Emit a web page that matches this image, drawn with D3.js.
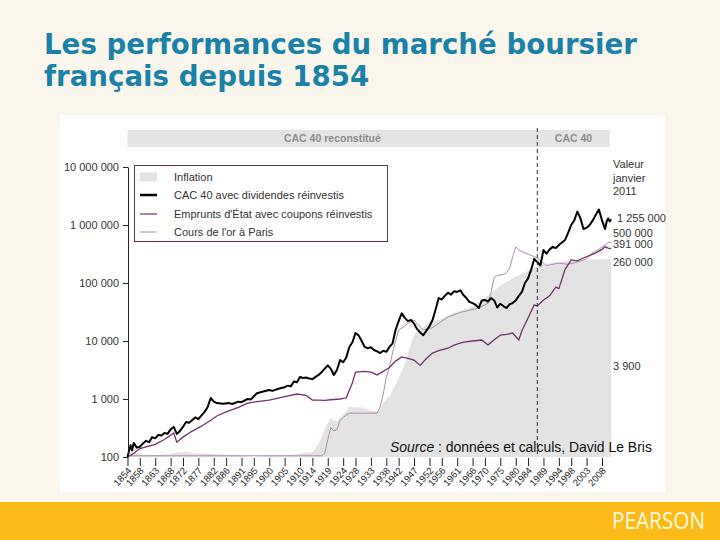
<!DOCTYPE html>
<html><head><meta charset="utf-8">
<script src="https://cdn.jsdelivr.net/npm/d3@7"></script>
<style>body{margin:0;background:#FBF6EC}svg{display:block}</style>
</head><body>
<svg id="c" width="720" height="540"></svg>
<script>
// ---------- DATA ----------
const titleLines = ["Les performances du marché boursier", "français depuis 1854"];
const yTickValues = [100, 1000, 10000, 100000, 1000000, 10000000];
const xTickYears = [1854,1858,1863,1868,1872,1877,1882,1886,1891,1895,1900,1905,1910,1914,1919,1924,1928,1933,1938,1942,1947,1952,1956,1961,1966,1970,1975,1980,1984,1989,1994,1998,2003,2008];
const legendLabels = ["Inflation", "CAC 40 avec dividendes réinvestis", "Emprunts d'État avec coupons réinvestis", "Cours de l'or à Paris"];
const bandLabels = ["CAC 40 reconstitué", "CAC 40"];
const cac40StartYear = 1987;
const endLabelsTitle = ["Valeur", "janvier", "2011"];
const endLabels = ["1 255 000", "500 000", "391 000", "260 000", "3 900"];

// CAC 40 avec dividendes réinvestis [year, value]
const cac40 = [[1854,100],[1855,160],[1855.5,130],[1856,175],[1857,145],[1858,150],[1859,170],[1860,190],[1861,180],[1862,220],[1863,210],[1864,240],[1865,235],[1866,260],[1867,250],[1868,300],[1869,330],[1870,250],[1871,280],[1872,330],[1873,400],[1874,390],[1876,480],[1877,450],[1879,600],[1880,720],[1881,1040],[1882,900],[1883,850],[1885,830],[1887,850],[1888,820],[1890,900],[1891,880],[1893,1000],[1894,980],[1896,1260],[1898,1350],[1900,1430],[1901,1380],[1903,1500],[1905,1600],[1906,1700],[1907,1650],[1908,2000],[1909,1950],[1910,2400],[1911,2300],[1912,2350],[1913,2250],[1914,2200],[1916,2600],[1917,2900],[1919,3800],[1920,3300],[1921,2600],[1922,3200],[1923,4700],[1924,4300],[1925,5200],[1926,7900],[1927,9500],[1928,13700],[1929,12500],[1930,10000],[1931,7900],[1932,7500],[1933,7800],[1934,7000],[1935,6600],[1936,6200],[1937,6800],[1938,6500],[1939,7900],[1940,9000],[1941,15500],[1942,22000],[1943,30000],[1944,25000],[1945,22000],[1946,23000],[1947,20000],[1948,16000],[1949,14000],[1950,12600],[1951,15000],[1952,18000],[1953,23000],[1954,35000],[1955,55000],[1956,52000],[1957,60000],[1958,68000],[1959,63000],[1960,72000],[1961,70000],[1962,75000],[1963,62000],[1964,55000],[1965,47000],[1966,45000],[1967,42000],[1968,37000],[1969,50000],[1970,51000],[1971,48000],[1972,55000],[1973,50000],[1974,38000],[1975,44000],[1976,40000],[1977,37000],[1978,43000],[1979,45000],[1980,50000],[1981,60000],[1982,70000],[1983,100000],[1984,120000],[1985,170000],[1986,260000],[1987,230000],[1988,200000],[1989,370000],[1990,320000],[1991,380000],[1992,420000],[1993,400000],[1994,450000],[1995,500000],[1996,550000],[1997,730000],[1998,1000000],[1999,1200000],[2000,1700000],[2001,1300000],[2002,850000],[2003,900000],[2004,1000000],[2005,1200000],[2006,1500000],[2007,1850000],[2008,1200000],[2009,850000],[2009.5,1150000],[2010,1300000],[2010.5,1150000],[2011,1255000]];

// Emprunts d'État avec coupons réinvestis
const bonds = [[1854,100],[1856,115],[1858,140],[1860,150],[1863,165],[1866,200],[1869,260],[1870,180],[1872,220],[1875,280],[1878,340],[1881,430],[1883,510],[1886,600],[1890,720],[1893,850],[1896,900],[1900,960],[1905,1100],[1909,1220],[1912,1150],[1914,960],[1916,960],[1918,950],[1920,970],[1923,1000],[1925,1050],[1927,1900],[1928,2900],[1931,3000],[1933,2900],[1935,2600],[1937,3000],[1939,3500],[1941,4500],[1943,5300],[1945,5000],[1947,4700],[1949,3800],[1951,5000],[1953,6200],[1955,6800],[1958,7500],[1960,8500],[1963,9600],[1966,10000],[1969,10400],[1971,8500],[1973,10500],[1975,12600],[1977,13000],[1979,13700],[1981,10400],[1982,15000],[1984,25000],[1986,42000],[1987,40000],[1989,51000],[1991,60000],[1993,85000],[1994,80000],[1996,170000],[1998,250000],[2000,240000],[2002,270000],[2004,300000],[2006,330000],[2008,380000],[2009,420000],[2010,400000],[2011,391000]];

// Cours de l'or à Paris
const gold = [[1854,105],[1914,105],[1917,105],[1918,115],[1919,200],[1920,320],[1921,280],[1922,300],[1923,430],[1924,480],[1925,530],[1926,570],[1935,570],[1936,730],[1937,1200],[1938,2400],[1939,3500],[1940,6200],[1941,10000],[1942,15500],[1944,18000],[1945,20000],[1947,23000],[1948,20000],[1950,15500],[1953,17000],[1956,22000],[1958,26000],[1962,31000],[1965,34000],[1968,37000],[1971,45000],[1972,70000],[1973,125000],[1974,135000],[1976,140000],[1977,150000],[1978,180000],[1979,280000],[1980,420000],[1981,370000],[1983,330000],[1985,300000],[1987,270000],[1990,200000],[1994,220000],[1997,210000],[2000,230000],[2003,260000],[2005,330000],[2007,380000],[2009,450000],[2010,500000],[2011,500000]];

// Inflation (area)
const inflation = [[1854,100],[1855,115],[1856,120],[1858,110],[1862,105],[1866,110],[1870,120],[1873,125],[1876,115],[1880,115],[1885,110],[1890,105],[1895,100],[1900,105],[1905,105],[1910,115],[1912,120],[1914,120],[1915,140],[1916,170],[1917,220],[1918,300],[1919,380],[1920,470],[1921,420],[1922,410],[1923,480],[1924,550],[1925,600],[1926,750],[1927,720],[1930,720],[1932,650],[1935,600],[1936,650],[1937,850],[1938,1000],[1939,1100],[1940,1400],[1941,1800],[1942,2300],[1943,3000],[1944,4000],[1945,6000],[1946,9000],[1947,12600],[1948,15000],[1950,17000],[1952,22000],[1955,23000],[1958,27000],[1960,31000],[1965,37000],[1970,55000],[1975,90000],[1980,130000],[1983,150000],[1985,175000],[1987,195000],[1990,215000],[1995,235000],[2000,245000],[2005,255000],[2011,260000]];

// ---------- DRAW ----------
const svg = d3.select("#c");
const FONT = "'Liberation Sans', Arial, sans-serif";

svg.append("rect").attr("width",720).attr("height",540).attr("fill","#FBF6EC");
svg.append("rect").attr("x",0).attr("y",502).attr("width",720).attr("height",38).attr("fill","#FBBA16");
svg.append("rect").attr("x",60).attr("y",115).attr("width",605).attr("height",377).attr("fill","#FFFFFF");

// title
const tTitle = svg.append("g").attr("font-family","'DejaVu Sans', Verdana, sans-serif").attr("font-weight","bold").attr("fill","#1A82A8");
const t1 = tTitle.append("text").attr("x",44).attr("y",54).attr("font-size",25).text(titleLines[0]);
const w1 = t1.node().getComputedTextLength();
const fs = 25*593/w1;
t1.attr("font-size",fs);
tTitle.append("text").attr("x",44).attr("y",86).attr("font-size",fs).text(titleLines[1]);

// Pearson
svg.append("text").attr("x",612).attr("y",529).attr("font-family","'Open Sans', sans-serif").attr("font-size",24)
  .attr("fill","#FFF8E4").attr("textLength",93).attr("lengthAdjust","spacingAndGlyphs").text("PEARSON");

// scales
const x = d3.scaleLinear().domain([1854, 2008]).range([127.5, 602]);
const y = d3.scaleLog().domain([100, 1e7]).range([457, 167]);

// top band
svg.append("rect").attr("x",x(1854)).attr("y",130).attr("width",x(2010.5)-x(1854)).attr("height",17).attr("fill","#E4E4E4");
svg.append("text").attr("x",(x(1854)+x(cac40StartYear))/2).attr("y",142).attr("text-anchor","middle")
  .attr("font-family",FONT).attr("font-weight","bold").attr("font-size",10.5).attr("fill","#8C8C8C").text(bandLabels[0]);
svg.append("text").attr("x",(x(cac40StartYear)+x(2010.5))/2).attr("y",142).attr("text-anchor","middle")
  .attr("font-family",FONT).attr("font-weight","bold").attr("font-size",10.5).attr("fill","#8C8C8C").text(bandLabels[1]);

// inflation area
const area = d3.area().x(d=>x(d[0])).y0(y(100)).y1(d=>y(d[1]));
svg.append("path").datum(inflation).attr("d",area).attr("fill","#E3E3E3");

const line = d3.line().x(d=>x(d[0])).y(d=>y(d[1]));
svg.append("path").datum(gold).attr("d",line).attr("fill","none").attr("stroke","#AD8AAB").attr("stroke-width",1);
svg.append("path").datum(bonds).attr("d",line).attr("fill","none").attr("stroke","#72336C").attr("stroke-width",1.3);
svg.append("path").datum(cac40).attr("d",line).attr("fill","none").attr("stroke","#000").attr("stroke-width",2).attr("stroke-linejoin","round");

// dashed line
svg.append("line").attr("x1",x(cac40StartYear)).attr("x2",x(cac40StartYear)).attr("y1",128).attr("y2",457)
  .attr("stroke","#333").attr("stroke-width",1).attr("stroke-dasharray","4,3");

// y axis
const fmt = d => d3.format(",")(d).replace(/,/g," ");
const ya = svg.append("g").attr("transform","translate(128,0)")
  .call(d3.axisLeft(y).tickValues(yTickValues).tickFormat(fmt).tickSize(5).tickSizeOuter(0));
ya.selectAll("text").attr("font-family",FONT).attr("font-size",11).attr("fill","#333").attr("x",-9);
ya.selectAll("line,path").attr("stroke","#222");

// x axis
const xa = svg.append("g").attr("transform","translate(0,458)")
  .call(d3.axisBottom(x).tickValues(xTickYears).tickFormat(d3.format("d")).tickSize(8).tickSizeOuter(0));
xa.select(".domain").remove();
xa.selectAll("line").attr("stroke","#222");
xa.selectAll("text").attr("font-family",FONT).attr("font-size",9.5).attr("fill","#222")
  .attr("text-anchor","end").attr("dy",null).attr("y",0)
  .attr("transform","translate(4,13) rotate(-48)");

// legend
const lg = svg.append("g");
lg.append("rect").attr("x",134.5).attr("y",165.5).attr("width",253).attr("height",76).attr("fill","#fff").attr("stroke","#5D3457").attr("stroke-width",1);
const ly = [177, 195, 214, 232];
lg.append("rect").attr("x",140).attr("y",ly[0]-4.5).attr("width",17).attr("height",9).attr("fill","#E3E3E3");
lg.append("line").attr("x1",140).attr("x2",157).attr("y1",ly[1]).attr("y2",ly[1]).attr("stroke","#000").attr("stroke-width",2.5);
lg.append("line").attr("x1",140).attr("x2",157).attr("y1",ly[2]).attr("y2",ly[2]).attr("stroke","#72336C").attr("stroke-width",1.2);
lg.append("line").attr("x1",140).attr("x2",157).attr("y1",ly[3]).attr("y2",ly[3]).attr("stroke","#AD8AAB").attr("stroke-width",1);
legendLabels.forEach((t,i)=>{
  lg.append("text").attr("x",174).attr("y",ly[i]+4).attr("font-family",FONT).attr("font-size",11).attr("fill","#333").text(t);
});

// right labels
const rl = svg.append("g").attr("font-family",FONT).attr("font-size",11).attr("fill","#333");
endLabelsTitle.forEach((t,i)=> rl.append("text").attr("x",613).attr("y",168+i*13.5).text(t));
const endY = [222, 237, 248, 266, 370];
const endX = [617, 613, 613, 613, 613];
endLabels.forEach((t,i)=> rl.append("text").attr("x",endX[i]).attr("y",endY[i]).text(t));

// source
const src = svg.append("text").attr("x",390).attr("y",452).attr("font-family",FONT).attr("font-size",12.5).attr("fill","#111");
src.append("tspan").attr("font-style","italic").text("Source");
src.append("tspan").text(" : données et calculs, David Le Bris");
const sw = src.node().getComputedTextLength();
src.attr("font-size", 12.5*262/sw);
</script>
</body></html>
